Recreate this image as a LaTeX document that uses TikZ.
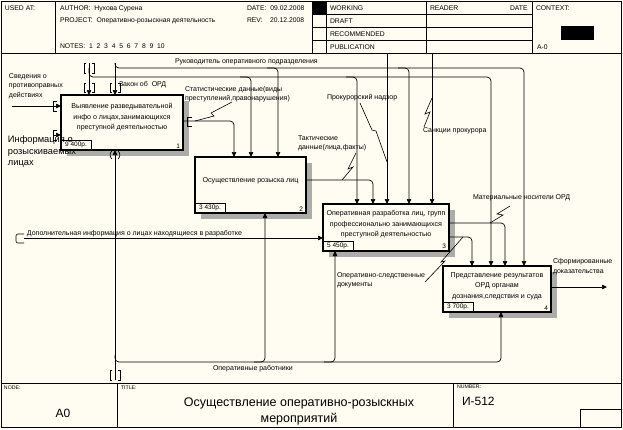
\documentclass[tikz,border=0pt]{standalone}
\usepackage{fontspec}
\setmainfont{Liberation Sans}
\usetikzlibrary{arrows.meta,backgrounds}
\definecolor{bg}{RGB}{255,253,242}
\definecolor{shadowc}{RGB}{172,172,168}
\begin{document}
\begin{tikzpicture}[x=1pt,y=-1pt,
  every node/.style={inner sep=0pt,outer sep=0pt},
  rule/.style={line width=0.6pt},
  hd/.style={font=\fontsize{6.8}{8}\selectfont,anchor=west},
  sm/.style={font=\fontsize{5.2}{6}\selectfont,anchor=north west},
  lbl/.style={font=\fontsize{7}{9.5}\selectfont,align=left,anchor=west},
  boxtxt/.style={font=\fontsize{7.1}{10.5}\selectfont,align=center},
  idbox/.style={draw,line width=1.3pt,fill=bg},
  shade6/.style={fill=shadowc},
  costbox/.style={draw,line width=0.6pt,minimum width=30pt,minimum height=10pt,
     font=\fontsize{6.5}{7}\selectfont,anchor=south west},
  numtxt/.style={font=\fontsize{6.5}{7}\selectfont,anchor=south east},
  conn/.style={line width=0.7pt,rounded corners=4pt},
  arr/.style={conn,-{Triangle[length=5pt,width=4.5pt]}},
  sq/.style={line width=0.6pt},
  tun/.style={line width=0.6pt},
]
\useasboundingbox (0,0) rectangle (623,429);
\begin{pgfonlayer}{background}
\fill[bg] (0,0) rectangle (623,429);
\end{pgfonlayer}
% frame
\draw[rule] (1.5,1.5) rectangle (621.5,427.5);
% header
\draw[rule] (1.5,53) -- (621.5,53);
\foreach \xx in {55,312,326,426,532} \draw[rule] (\xx,1.5) -- (\xx,53);
\foreach \yy in {14.5,27.5,40.5} \draw[rule] (312,\yy) -- (532,\yy);
\fill (312,1.5) rectangle (326,14.5);
\fill (561,26) rectangle (594,40);
\node[hd] (hUsed) at (5,8.5) {USED AT:};
\node[hd] (hAuth) at (60,8.5) {AUTHOR:\ \ Нухова Сурена};
\node[hd] (hProj) at (60,20.5) {PROJECT:\ \ Оперативно-розыскная деятельность};
\node[hd] (hNotes) at (60,46.5) {NOTES:\ \ 1\ \ 2\ \ 3\ \ 4\ \ 5\ \ 6\ \ 7\ \ 8\ \ 9\ \ 10};
\node[hd] (hDate) at (247,8.5) {DATE:\ \ 09.02.2008};
\node[hd] (hRev) at (247,20.5) {REV:\ \ \ \ 20.12.2008};
\node[hd] (hW) at (330,8.5) {WORKING};
\node[hd] (hD) at (330,21) {DRAFT};
\node[hd] (hR) at (330,34) {RECOMMENDED};
\node[hd] (hP) at (330,47) {PUBLICATION};
\node[hd] (hRd) at (430,8.5) {READER};
\node[hd] (hDt) at (510,8.5) {DATE};
\node[hd] (hCt) at (536,8.5) {CONTEXT:};
\node[hd] (hA0) at (537,47) {A-0};
% footer
\draw[rule] (1.5,383) -- (621.5,383);
\draw[rule] (117,383) -- (117,427.5);
\draw[rule] (453,383) -- (453,427.5);
\draw[rule] (580,409) rectangle (621.5,427.5);
\node[sm] (fNode) at (4,386) {NODE:};
\node[sm] (fTitle) at (121,386) {TITLE:};
\node[sm] (fNum) at (457,385) {NUMBER:};
\node[font=\fontsize{12}{14}\selectfont] (fA0) at (63,413) {A0};
\node[font=\fontsize{12.5}{16}\selectfont,align=center] (fT) at (299,411) {Осуществление оперативно-розыскных\\мероприятий};
\node[font=\fontsize{12}{14}\selectfont,anchor=west] (fN) at (462,401) {И-512};

% boxes
\node[idbox,minimum width=122pt,minimum height=55pt] (b1) at (122,122.5) {};
\node[idbox,minimum width=111pt,minimum height=56pt] (b2) at (250.5,185) {};
\node[idbox,minimum width=126pt,minimum height=47pt] (b3) at (386,227.5) {};
\node[idbox,minimum width=108pt,minimum height=46pt] (b4) at (497,289) {};
\begin{pgfonlayer}{background}
\foreach \bb in {b1,b2,b3,b4}
  \fill[shade6] ([shift={(6,6)}]\bb.north west) rectangle ([shift={(6,6)}]\bb.south east);
\end{pgfonlayer}
\node[boxtxt] (t1) at (122,117.5) {Выявление разведывательной\\инфо о лицах,занимающихся\\преступной деятельностью};
\node[boxtxt] (t2) at (250.5,181) {Осуществление розыска лиц};
\node[boxtxt] (t3) at (386,224.5) {Оперативная разработка лиц, групп\\профессионально занимающихся\\преступной деятельностью};
\node[boxtxt] (t4) at (497,286) {Представление результатов\\ОРД органам\\дознания,следствия и суда};
\node[costbox] (k1) at (b1.south west) {9 400р.};
\node[costbox] (k2) at (b2.south west) {3 430р.};
\node[costbox] (k3) at (b3.south west) {5 450р.};
\node[costbox] (k4) at (b4.south west) {3 700р.};
\node[numtxt] (n1) at ([shift={(-3,-2)}]b1.south east) {1};
\node[numtxt] (n2) at ([shift={(-3,-2)}]b2.south east) {2};
\node[numtxt] (n3) at ([shift={(-3,-2)}]b3.south east) {3};
\node[numtxt] (n4) at ([shift={(-3,-2)}]b4.south east) {4};

% inputs
\coordinate (svS) at (12,106);
\draw[arr] (svS) -- (svS -| b1.west);
\coordinate (inS) at (53,135);
\draw[arr] (inS) -- (inS -| b1.west);
\coordinate (dopS) at (24,238);
\draw[arr] (dopS) -- (dopS -| b3.west);
% controls from top
\coordinate (c89) at (89,63);
\draw[arr] (c89) -- (c89 |- b1.north);
\coordinate (h77) at (491,77);
\draw[arr] (89,68) -- (89,77) -- (h77) -- (h77 |- b4.north);
\coordinate (h77a) at (251,77);
\draw[arr] (240,77) -- (h77a) -- (h77a |- b2.north);
\coordinate (h77b) at (357,77);
\draw[arr] (346,77) -- (h77b) -- (h77b |- b3.north);
\coordinate (c115) at (115,63);
\draw[arr] (c115) -- (c115 |- b1.north);
\coordinate (h68) at (524,68);
\draw[arr] (115,63) -- (115,68) -- (h68) -- (h68 |- b4.north);
\coordinate (h68a) at (278,68);
\draw[arr] (267,68) -- (h68a) -- (h68a |- b2.north);
\coordinate (h68b) at (409,68);
\draw[arr] (398,68) -- (h68b) -- (h68b |- b3.north);
\coordinate (pn) at (387,53);
\draw[arr] (pn) -- (pn |- b3.north);
\coordinate (sp) at (432,53);
\draw[arr] (sp) -- (sp |- b3.north);
% outputs
\coordinate (o1) at (234,121);
\draw[arr] (o1 -| b1.east) -- (o1) -- (o1 |- b2.north);
\coordinate (o2) at (373,180);
\draw[arr] (o2 -| b2.east) -- (o2) -- (o2 |- b3.north);
\coordinate (o3) at (505,223);
\draw[arr] (o3 -| b3.east) -- (o3) -- (o3 |- b4.north);
\coordinate (o4) at (472,237);
\draw[arr] (o4 -| b3.east) -- (o4) -- (o4 |- b4.north);
\coordinate (o5) at (607,287);
\draw[arr] (o5 -| b4.east) -- (o5);
% mechanisms
\coordinate (m0) at (115,380);
\draw[arr] (m0) -- (m0 |- b1.south);
\coordinate (m4) at (501,362);
\draw[arr] (115,355) -- (115,362) -- (m4) -- (m4 |- b4.south);
\coordinate (m2) at (265,362);
\draw[arr] (254,362) -- (m2) -- (m2 |- b2.south);
\coordinate (m3) at (335,362);
\draw[arr] (324,362) -- (m3) -- (m3 |- b3.south);

% tunnel brackets
\foreach \xx/\ya/\yb in {89/63/73, 89/83/92, 115/83/92, 115/370/380}{
  \draw[tun] (\xx-3,\ya) -- (\xx-5,\ya) -- (\xx-5,\yb) -- (\xx-3,\yb);
  \draw[tun] (\xx+3,\ya) -- (\xx+5,\ya) -- (\xx+5,\yb) -- (\xx+3,\yb);
}
\draw[tun] (112,151) .. controls (109.5,153) and (109.5,157) .. (112,159);
\draw[tun] (118,151) .. controls (120.5,153) and (120.5,157) .. (118,159);
\draw[tun] (57,101) -- (53,101) -- (53,111) -- (57,111);
\draw[tun] (57,130) -- (53,130) -- (53,140) -- (57,140);
\draw[tun] (192,117) -- (187,117) -- (187,126) -- (192,126);
\draw[tun,rounded corners=2pt] (24,234) -- (16,234) -- (16,243) -- (24,243);

% labels
\node[lbl] (lSv) at (9,86) {Сведения о\\противоправных\\действиях};
\node[lbl,font=\fontsize{9.3}{11.5}\selectfont] (lInf) at (8,152) {Информация о\\розыскиваемых\\лицах};
\node[lbl] (lZak) at (119,85) {Закон об\ \ ОРД};
\node[lbl] (lRuk) at (175,62) {Руководитель оперативного подразделения};
\node[lbl] (lStat) at (185,94) {Статистические данные(виды\\преступлений,правонарушения)};
\node[lbl] (lProk) at (327,98) {Прокурорский надзор};
\node[lbl] (lTakt) at (298,143.5) {Тактические\\данные(лица,факты)};
\node[lbl] (lSank) at (423,131) {Санкции прокурора};
\node[lbl] (lMat) at (473,198) {Материальные носители ОРД};
\node[lbl] (lOsd) at (337,280.5) {Оперативно-следственные\\документы};
\node[lbl] (lSf) at (553,266.5) {Сформированные\\доказательства};
\node[lbl] (lDop) at (27,233.5) {Дополнительная информация о лицах находящиеся в разработке};
\node[lbl] (lOr) at (213,369) {Оперативные работники};

% squiggles
\draw[sq] (232,102) -- (211,113) -- (214,116) -- (195,121);
\draw[sq] (356,153) -- (348,169) -- (353,167) -- (342,180);
\draw[sq] (360,103) -- (372,130) -- (376,131) -- (387,162);
\draw[sq] (432,98) -- (425,114) -- (430,112) -- (424,127);
\draw[sq] (510,206) -- (497,214) -- (503,215) -- (490,223);
\draw[sq] (425,282) -- (445,261) -- (441,262) -- (463,237);
\end{tikzpicture}
\end{document}
